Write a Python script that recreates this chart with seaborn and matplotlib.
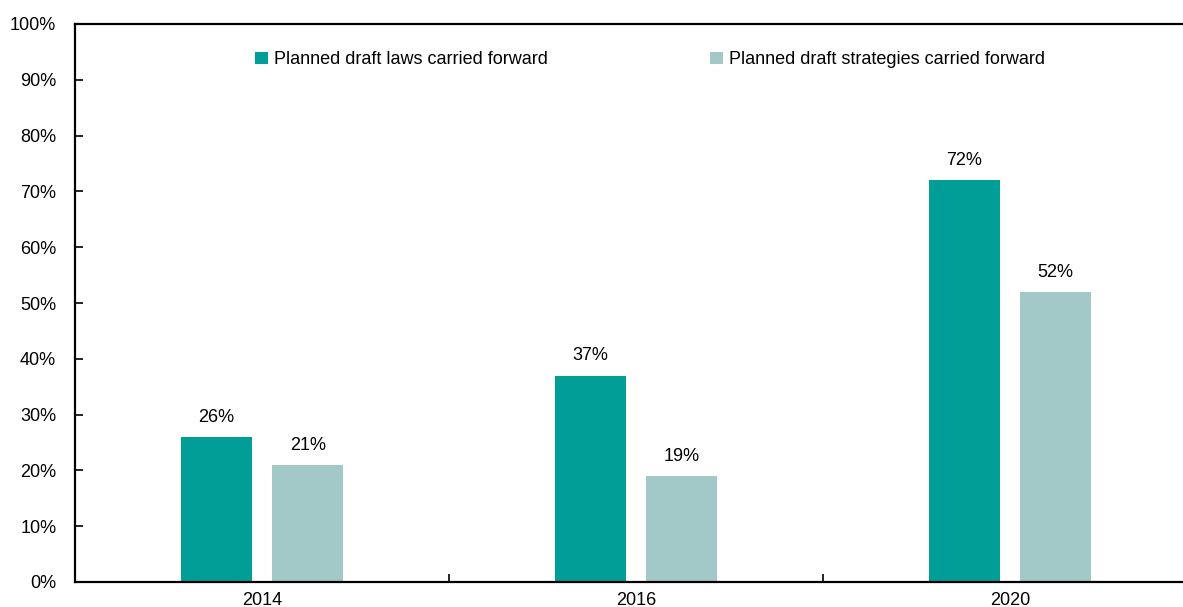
import matplotlib
matplotlib.use("Agg")
import matplotlib.pyplot as plt
import seaborn as sns
import pandas as pd
from matplotlib.ticker import FixedLocator, PercentFormatter

years = ["2014", "2016", "2020"]
laws = [26, 37, 72]
strategies = [21, 19, 52]
series_names = ["Planned draft laws carried forward", "Planned draft strategies carried forward"]
colors = ["#009E96", "#A2C9C8"]

df = pd.DataFrame({
    "year": years * 2,
    "value": laws + strategies,
    "series": [series_names[0]] * 3 + [series_names[1]] * 3,
})

sns.set_style("white")
plt.rcParams["font.family"] = ["Liberation Sans", "DejaVu Sans"]
plt.rcParams["text.color"] = "black"
plt.rcParams["xtick.color"] = "black"
plt.rcParams["ytick.color"] = "black"

fig = plt.figure(figsize=(11.83, 6.07), dpi=100)
ax = fig.add_axes([75 / 1183, 25 / 607, 1122 / 1183, 558 / 607])

sns.barplot(data=df, x="year", y="value", hue="series", palette=colors,
            width=0.488, saturation=1, ax=ax, legend=True, linewidth=0)

# narrow each bar around its own centre to leave a gap between the pair
bar_w = 0.19
for p in ax.patches:
    if p.get_height() == 0 and p.get_width() == 0:
        continue
    c = p.get_x() + p.get_width() / 2
    p.set_width(bar_w)
    p.set_x(c - bar_w / 2)

for cont in ax.containers:
    ax.bar_label(cont, labels=[f"{v:.0f}%" for v in cont.datavalues],
                 padding=8, fontsize=13, color="black")

ax.set_ylim(0, 100)
ax.set_xlim(-0.5, 2.5)
ax.yaxis.set_major_locator(FixedLocator(range(0, 101, 10)))
ax.yaxis.set_major_formatter(PercentFormatter(decimals=0))
ax.set_xlabel("")
ax.set_ylabel("")
ax.tick_params(axis="y", direction="in", length=6, width=1.2, labelsize=13, pad=13.5,
               left=True, labelcolor="black")
ax.tick_params(axis="x", which="major", length=0, labelsize=13, pad=7, labelcolor="black")
ax.xaxis.set_minor_locator(FixedLocator([0.5, 1.5]))
ax.tick_params(axis="x", which="minor", direction="in", length=6, width=1.2, bottom=True)

for side in ["left", "bottom", "top"]:
    ax.spines[side].set_visible(True)
    ax.spines[side].set_color("black")
    ax.spines[side].set_linewidth(1.6)
ax.spines["right"].set_visible(False)

leg = ax.legend(loc="upper left", bbox_to_anchor=(0.146, 0.98), ncol=2, frameon=False,
                fontsize=13, handlelength=0.7, handleheight=0.7, handletextpad=0.35,
                columnspacing=9.0, labelcolor="black")

fig.savefig("out.png", dpi=100)
